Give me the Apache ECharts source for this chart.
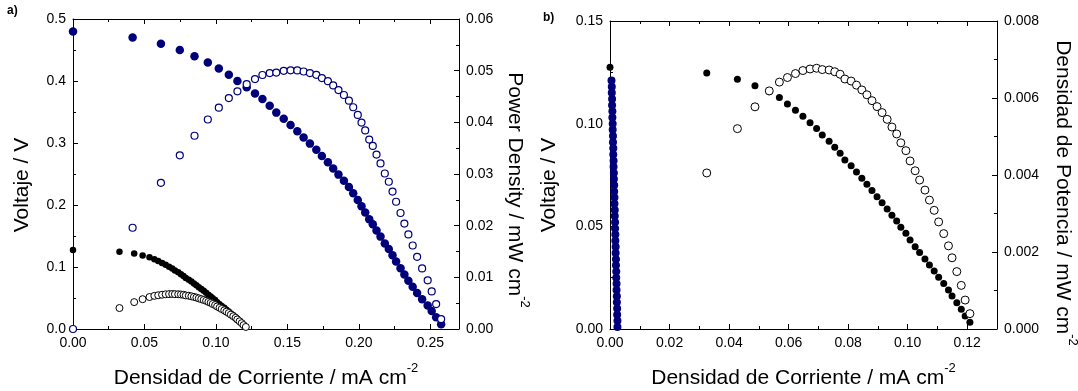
<!DOCTYPE html>
<html><head><meta charset="utf-8">
<script src="https://cdn.jsdelivr.net/npm/echarts@6/dist/echarts.min.js"></script>
<style>html,body{margin:0;padding:0;background:#fff}#c{width:1078px;height:391px}</style>
</head><body><div id="c"></div>
<script>
// ---------- Panel a: blue cell (current mA cm-2, voltage V, power mW cm-2)
const aBlueI = [0, 0.0417, 0.0615, 0.0747, 0.0850, 0.0943, 0.1020, 0.1090, 0.1150, 0.1215, 0.1273, 0.1325, 0.1376, 0.1422, 0.1474, 0.1522, 0.1569, 0.1613, 0.1657, 0.1702, 0.1741, 0.1783, 0.1820, 0.1857, 0.1895, 0.1930, 0.1960, 0.1992, 0.2018, 0.2044, 0.2072, 0.2097, 0.2123, 0.2151, 0.2181, 0.2209, 0.2235, 0.2260, 0.2291, 0.2318, 0.2346, 0.2376, 0.2407, 0.2442, 0.2481, 0.2509, 0.2540, 0.2575];
const aBlueV = [0.480, 0.470, 0.460, 0.450, 0.440, 0.430, 0.420, 0.410, 0.400, 0.390, 0.380, 0.371, 0.360, 0.349, 0.339, 0.329, 0.319, 0.309, 0.299, 0.289, 0.279, 0.269, 0.259, 0.249, 0.239, 0.229, 0.219, 0.208, 0.198, 0.188, 0.177, 0.169, 0.159, 0.149, 0.138, 0.129, 0.119, 0.109, 0.098, 0.088, 0.078, 0.068, 0.058, 0.048, 0.038, 0.029, 0.019, 0.0075];
const aBlueP = [0, 0.01960, 0.02829, 0.03362, 0.03740, 0.04055, 0.04284, 0.04469, 0.04600, 0.04739, 0.04837, 0.04916, 0.04954, 0.04963, 0.04997, 0.05007, 0.05005, 0.04984, 0.04954, 0.04919, 0.04857, 0.04796, 0.04714, 0.04624, 0.04529, 0.04420, 0.04292, 0.04143, 0.03996, 0.03843, 0.03667, 0.03544, 0.03376, 0.03205, 0.03010, 0.02850, 0.02660, 0.02463, 0.02245, 0.02040, 0.01830, 0.01616, 0.01396, 0.01172, 0.00943, 0.00728, 0.00483, 0.00193];

// ---------- Black cell (shown in both panels)
const blackI = [0, 0.0325, 0.0428, 0.0487, 0.0535, 0.0569, 0.0596, 0.0623, 0.0648, 0.0672, 0.0694, 0.0713, 0.0736, 0.0755, 0.0773, 0.0789, 0.0810, 0.0828, 0.0846, 0.0863, 0.0880, 0.0897, 0.0914, 0.0931, 0.0947, 0.0963, 0.0977, 0.0994, 0.1008, 0.1025, 0.1040, 0.1058, 0.1073, 0.1089, 0.1104, 0.1121, 0.1137, 0.1149, 0.1165, 0.1180, 0.1193, 0.1209];
const blackV = [0.1275, 0.1247, 0.1216, 0.1185, 0.1156, 0.1127, 0.1096, 0.1065, 0.1036, 0.1005, 0.0976, 0.0945, 0.0914, 0.0885, 0.0856, 0.0823, 0.0795, 0.0765, 0.0734, 0.0705, 0.0674, 0.0644, 0.0615, 0.0585, 0.0554, 0.0526, 0.0495, 0.0466, 0.0433, 0.0401, 0.0372, 0.0341, 0.0312, 0.0283, 0.0252, 0.0221, 0.0190, 0.0161, 0.0128, 0.0096, 0.0063, 0.0033];
const blackP = [0, 0.004053, 0.005204, 0.005771, 0.006185, 0.006413, 0.006532, 0.006635, 0.006713, 0.006754, 0.006773, 0.006738, 0.006727, 0.006682, 0.006617, 0.006493, 0.006440, 0.006334, 0.006210, 0.006084, 0.005931, 0.005777, 0.005621, 0.005446, 0.005246, 0.005065, 0.004836, 0.004632, 0.004365, 0.004110, 0.003869, 0.003608, 0.003348, 0.003082, 0.002782, 0.002477, 0.002160, 0.001850, 0.001491, 0.001133, 0.000752, 0.000399];

// ---------- Panel b: blue streak near zero current
const bBlueI = [0.0005, 0.0006, 0.0006, 0.0007, 0.0007, 0.0008, 0.0008, 0.0009, 0.0009, 0.0010, 0.0010, 0.0011, 0.0011, 0.0012, 0.0012, 0.0013, 0.0013, 0.0014, 0.0014, 0.0015, 0.0015, 0.0016, 0.0016, 0.0017, 0.0017, 0.0018, 0.0018, 0.0019, 0.0019, 0.0020, 0.0020, 0.0021, 0.0021, 0.0022, 0.0022, 0.0023, 0.0023, 0.0024, 0.0024, 0.0025, 0.0025];
const bBlueV = [0.121, 0.118, 0.115, 0.112, 0.109, 0.106, 0.103, 0.100, 0.097, 0.094, 0.091, 0.088, 0.085, 0.082, 0.079, 0.076, 0.073, 0.070, 0.067, 0.064, 0.061, 0.058, 0.055, 0.052, 0.049, 0.046, 0.043, 0.040, 0.037, 0.034, 0.031, 0.028, 0.025, 0.022, 0.019, 0.016, 0.013, 0.010, 0.007, 0.004, 0.001];

// ---------- Tick labels
const aXLabels = ['0.00', '0.05', '0.10', '0.15', '0.20', '0.25'];
const aYLabels = ['0.0', '0.1', '0.2', '0.3', '0.4', '0.5'];
const aY2Labels = ['0.00', '0.01', '0.02', '0.03', '0.04', '0.05', '0.06'];
const bXLabels = ['0.00', '0.02', '0.04', '0.06', '0.08', '0.10', '0.12'];
const bYLabels = ['0.00', '0.05', '0.10', '0.15'];
const bY2Labels = ['0.000', '0.002', '0.004', '0.006', '0.008'];
const aXMax = 0.27, bXMax = 0.13;

// ---------- Titles
const xTitle = 'Densidad de Corriente / mA cm';
const aYTitle = 'Voltaje / V';
const aY2Title = 'Power Density / mW cm';
const bYTitle = 'Voltaje / V';
const bY2Title = 'Densidad de Potencia / mW cm';

const FONT = "'Liberation Sans', Arial, sans-serif";
const NAVY = '#00007a';

function zip(a, b) { return a.map((v, i) => [v, b[i]]); }

function axisCommon(labels, max, gridIndex, position, showLabels) {
  const min = parseFloat(labels[0]);
  const interval = parseFloat(labels[1]) - min;
  return {
    type: 'value', gridIndex, position, min, max: max, interval,
    splitLine: { show: false },
    axisLine: { show: true, onZero: false, lineStyle: { color: '#000', width: 1 } },
    axisTick: { show: true, inside: true, length: 5, lineStyle: { color: '#000', width: 1 } },
    minorTick: { show: true, splitNumber: 2, length: 3, lineStyle: { color: '#000', width: 1 } },
    axisLabel: {
      show: showLabels, margin: 7, color: '#000', fontSize: 14, fontFamily: FONT,
      showMaxLabel: true, showMinLabel: true,
      formatter: v => { const s = labels.find(l => Math.abs(parseFloat(l) - v) < 1e-9); return s || ''; }
    }
  };
}

const richStyle = {
  m: { fontSize: 21, fontFamily: FONT, lineHeight: 32, fill: '#000', color: '#000' },
  s: { fontSize: 13, fontFamily: FONT, lineHeight: 13, verticalAlign: 'top', fill: '#000', color: '#000' }
};
function titleEl(text, sup, x, y, rot) {
  return {
    type: 'text', x, y, rotation: rot, z: 100,
    style: {
      text: '{m|' + text + '}' + (sup ? '{s|' + sup + '}' : ''),
      rich: richStyle, align: 'center', verticalAlign: 'middle', fill: '#000'
    }
  };
}

function filled(color) { return { color, opacity: 1 }; }
function open(color, w) { return { color: '#fff', borderColor: color, borderWidth: w, opacity: 1 }; }

const aGrid = { left: 73, top: 19, width: 386, height: 310 };
const bGrid = { left: 610, top: 21, width: 387, height: 308 };

const option = {
  backgroundColor: '#fff',
  animation: false,
  grid: [aGrid, bGrid],
  xAxis: [
    axisCommon(aXLabels, aXMax, 0, 'bottom', true),
    axisCommon(aXLabels, aXMax, 0, 'top', false),
    axisCommon(bXLabels, bXMax, 1, 'bottom', true),
    axisCommon(bXLabels, bXMax, 1, 'top', false)
  ],
  yAxis: [
    axisCommon(aYLabels, parseFloat(aYLabels[aYLabels.length - 1]), 0, 'left', true),
    axisCommon(aY2Labels, parseFloat(aY2Labels[aY2Labels.length - 1]), 0, 'right', true),
    axisCommon(bYLabels, parseFloat(bYLabels[bYLabels.length - 1]), 1, 'left', true),
    axisCommon(bY2Labels, parseFloat(bY2Labels[bY2Labels.length - 1]), 1, 'right', true)
  ],
  series: [
    // panel a
    { type: 'scatter', xAxisIndex: 0, yAxisIndex: 0, data: zip(aBlueI, aBlueV), symbol: 'circle', symbolSize: 8.5, clip: false,
      itemStyle: filled(NAVY) },
    { type: 'scatter', xAxisIndex: 0, yAxisIndex: 0, data: zip(blackI, blackV), symbol: 'circle', symbolSize: 6.5, clip: false,
      itemStyle: filled('#000') },
    { type: 'scatter', xAxisIndex: 0, yAxisIndex: 1, data: zip(blackI, blackP).slice(1), symbol: 'circle', symbolSize: 7, clip: true,
      itemStyle: open('#000', 1) },
    { type: 'scatter', xAxisIndex: 0, yAxisIndex: 1, data: zip(aBlueI, aBlueP), symbol: 'circle', symbolSize: 7, clip: true,
      itemStyle: open(NAVY, 1.2) },
    // panel b
    { type: 'scatter', xAxisIndex: 2, yAxisIndex: 2, data: zip(bBlueI, bBlueV), symbol: 'circle', symbolSize: 8, clip: false,
      itemStyle: filled(NAVY) },
    { type: 'scatter', xAxisIndex: 2, yAxisIndex: 2, data: zip(blackI, blackV), symbol: 'circle', symbolSize: 7, clip: false,
      itemStyle: filled('#000') },
    { type: 'scatter', xAxisIndex: 2, yAxisIndex: 3, data: zip(blackI, blackP).slice(1), symbol: 'circle', symbolSize: 8, clip: true,
      itemStyle: open('#000', 1) }
  ],
  graphic: [
    titleEl(aYTitle, '', 22, 185, Math.PI / 2),
    titleEl(aY2Title, '-2', 515, 190, -Math.PI / 2),
    titleEl(xTitle, '-2', 266, 378, 0),
    titleEl(bYTitle, '', 549, 185, Math.PI / 2),
    titleEl(bY2Title, '-2', 1063, 193, -Math.PI / 2),
    titleEl(xTitle, '-2', 803.5, 378, 0),
    { type: 'text', x: 7, y: 5, style: { text: 'a)', fontSize: 12, fontWeight: 'bold', fontFamily: FONT, fill: '#000' } },
    { type: 'text', x: 543, y: 12, style: { text: 'b)', fontSize: 12, fontWeight: 'bold', fontFamily: FONT, fill: '#000' } }
  ]
};

const chart = echarts.init(document.getElementById('c'), null, { renderer: 'canvas' });
chart.setOption(option);
</script>
</body></html>
